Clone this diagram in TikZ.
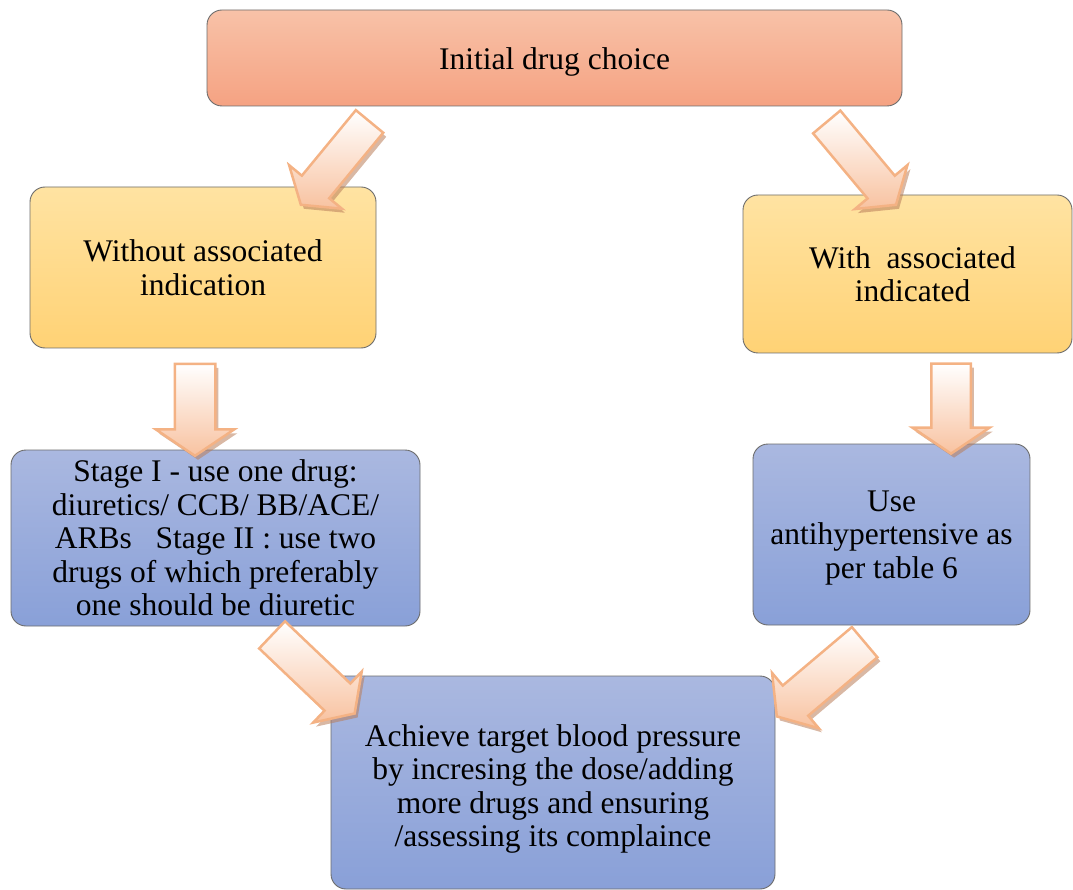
\documentclass[tikz,border=0pt]{standalone}
\usepackage{fontspec}
\setmainfont{Liberation Serif}
\usetikzlibrary{shapes.arrows,shadows}

\definecolor{salmontop}{RGB}{248,194,168}
\definecolor{salmonbot}{RGB}{245,162,130}
\definecolor{yeltop}{RGB}{255,227,162}
\definecolor{yelbot}{RGB}{255,210,117}
\definecolor{bluetop}{RGB}{170,184,224}
\definecolor{bluebot}{RGB}{137,160,216}
\definecolor{arrowline}{RGB}{244,178,132}
\definecolor{arrowfill}{RGB}{248,194,160}
\definecolor{arrowshadow}{RGB}{185,125,90}

\tikzset{
  box/.style={draw=gray!85!black, line width=0.9pt, rounded corners=15pt,
    align=center, inner sep=0pt,
    font=\fontsize{31.5}{33.5}\selectfont},
  topbox/.style={box, top color=salmontop, bottom color=salmonbot},
  yellowbox/.style={box, top color=yeltop, bottom color=yelbot},
  bluebox/.style={box, top color=bluetop, bottom color=bluebot},
  barrow/.style 2 args={single arrow, draw=arrowline, line width=2.5pt,
    top color=white, bottom color=arrowfill,
    inner xsep=0pt, inner ysep={#1/2}, text height=0pt, text depth=0pt,
    minimum width=#2, single arrow head extend={(#2-#1)/2},
    single arrow tip angle=112,
    drop shadow={shadow xshift=3pt, shadow yshift=-4pt,
      fill=arrowshadow, opacity=0.55}},
}

\begin{document}
\begin{tikzpicture}[x=1pt,y=1pt]
  \useasboundingbox (0,0) rectangle (1073,-890);
  %boxes
  \node[topbox, minimum width=695, minimum height=96] (init) at (554.5,-58)
    {\\[-4.5pt]Initial drug choice};
  \node[yellowbox, minimum width=346, minimum height=161] (noind) at (203,-267.5)
    {Without associated\\indication};
  \node[yellowbox, minimum width=329, minimum height=158] (withind) at (907.5,-274)
    {\hspace*{10pt}With\ \ associated\\\hspace*{10pt}indicated};
  \node[bluebox, minimum width=409, minimum height=176] (stageone) at (215.5,-538)
    {Stage I - use one drug:\\diuretics/ CCB/ BB/ACE/\\ARBs\ \ \ Stage II : use two\\drugs of which preferably\\one should be diuretic};
  \node[bluebox, minimum width=277, minimum height=181] (tabsix) at (891.5,-534.5)
    {\\[-6pt]Use\\antihypertensive as\\per table 6};
  \node[bluebox, minimum width=444, minimum height=213] (target) at (553,-782.5)
    {\\[1pt]Achieve target blood pressure\\by incresing the dose/adding\\more drugs and ensuring\\/assessing its complaince};
  %arrows
  \node[barrow={33}{66}, minimum height=108, rotate=230.5] (ar1) at (339,-158.5) {};
  \node[barrow={33}{66}, minimum height=108, rotate=309.9] (ar2) at (857.5,-158.8) {};
  \node[barrow={38}{76}, minimum height=92, rotate=270] (ar3) at (195,-403) {};
  \node[barrow={37}{75}, minimum height=90, rotate=270] (ar4) at (951,-402) {};
  \node[barrow={35}{68}, minimum height=114, rotate=316.4] (ar5) at (308.8,-669.8) {};
  \node[barrow={37}{70}, minimum height=115, rotate=220.2] (ar6) at (825.8,-675) {};
\end{tikzpicture}
\end{document}
